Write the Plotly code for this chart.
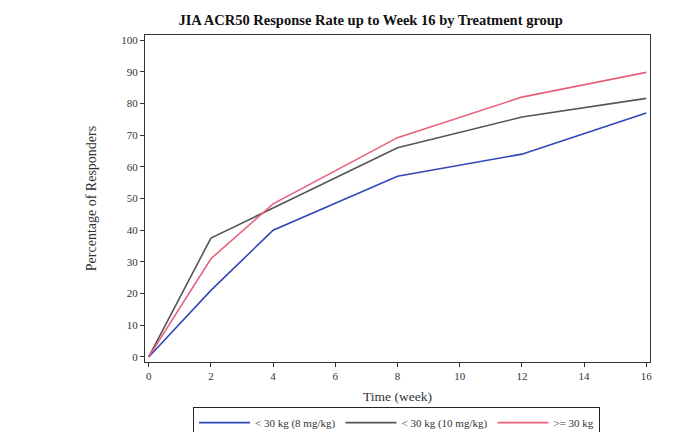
import plotly.graph_objects as go

weeks = [0, 2, 4, 8, 12, 16]
lt30_8mg = [0, 21, 40, 57, 64, 77]
lt30_10mg = [0, 37.5, 47, 66, 75.7, 81.6]
ge30 = [0, 31, 48.3, 69.2, 82, 89.8]

series_names = ["< 30 kg (8 mg/kg)", "< 30 kg (10 mg/kg)", ">= 30 kg"]
series_colors = ["#3346b8", "#555555", "#e8607a"]

fig = go.Figure()
for name, ys, color in zip(series_names, [lt30_8mg, lt30_10mg, ge30], series_colors):
    fig.add_trace(go.Scatter(x=weeks, y=ys, mode="lines", name=name,
                             line=dict(color=color, width=1.6)))

axis_common = dict(showgrid=False, zeroline=False, showline=True, mirror=True,
                   linecolor="#333333", linewidth=1.3, ticks="outside",
                   ticklen=4, tickcolor="#333333", automargin=False,
                   tickfont=dict(family="Liberation Serif", size=11, color="#333333"))

# page body keeps its default 8px margin, so the figure is 8px smaller than the window
fig.update_layout(
    width=683, height=424,
    paper_bgcolor="white", plot_bgcolor="white",
    margin=dict(l=137, r=41, t=27, b=70, autoexpand=False),
    title=dict(text="<b>JIA ACR50 Response Rate up to Week 16 by Treatment group</b>",
               x=0.531, xanchor="center", y=0.972, yanchor="middle",
               font=dict(family="Liberation Serif", size=14.5, color="#111111")),
    xaxis=dict(range=[-0.12, 16.12], tickvals=list(range(0, 17, 2)),
               title=dict(text="Time (week)", standoff=10,
                          font=dict(family="Liberation Serif", size=13.5, color="#333333")),
               **axis_common),
    yaxis=dict(range=[-1.6, 101.6], tickvals=list(range(0, 101, 10)),
               title=dict(text="Percentage of Responders", standoff=21,
                          font=dict(family="Liberation Serif", size=14, color="#333333")),
               **axis_common),
    legend=dict(orientation="h", x=0.498, xanchor="center", y=-0.138, yanchor="top",
                bordercolor="#222222", borderwidth=1, bgcolor="white",
                font=dict(family="Liberation Serif", size=11, color="#333333"),
                itemwidth=51, tracegroupgap=0),
    showlegend=True,
)

fig.write_html("out.html")
